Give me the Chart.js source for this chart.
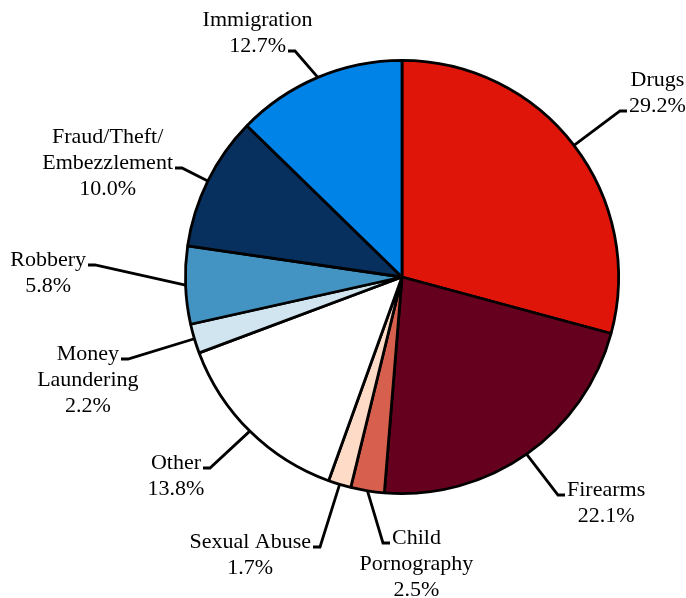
<!DOCTYPE html>
<html>
<head>
<meta charset="utf-8">
<script src="https://cdn.jsdelivr.net/npm/chart.js@4.4.1/dist/chart.umd.min.js"></script>
<style>
  html, body { margin: 0; padding: 0; background: #fff; }
  canvas { display: block; }
</style>
</head>
<body>
<canvas id="pie" width="686" height="598"></canvas>
<script>
const categories = ["Drugs", "Firearms", "Child Pornography", "Sexual Abuse", "Other",
  "Money Laundering", "Robbery", "Fraud/Theft/Embezzlement", "Immigration"];
const shares = [29.2, 22.1, 2.5, 1.7, 13.8, 2.2, 5.8, 10.0, 12.7];
const labelLines = [["Drugs"], ["Firearms"], ["Child", "Pornography"], ["Sexual Abuse"], ["Other"],
  ["Money", "Laundering"], ["Robbery"], ["Fraud/Theft/", "Embezzlement"], ["Immigration"]];
const sliceColors = ["#E0150A", "#65001F", "#D6604D", "#FDDBC7", "#FFFFFF",
  "#D1E5F0", "#4393C3", "#08305E", "#0083E6"];

// where each leader bends (offset from the pie centre), which side the text sits,
// and which text row the short tick points at
const leaders = [
  { dx: 218, dy: -166, side: "right", row: 1 },
  { dx: 156, dy: 218, side: "right", row: 0 },
  { dx: -19, dy: 266, side: "right", row: 0 },
  { dx: -82, dy: 270, side: "left", row: 0 },
  { dx: -192, dy: 191, side: "left", row: 0 },
  { dx: -274, dy: 82, side: "left", row: 0 },
  { dx: -307, dy: -12, side: "left", row: 0 },
  { dx: -220, dy: -109, side: "left", row: 1 },
  { dx: -107, dy: -226, side: "left", row: 1 }
];

const leaderLabels = {
  id: "leaderLabels",
  afterDatasetsDraw(chart) {
    const ctx = chart.ctx;
    const arcs = chart.getDatasetMeta(0).data;
    ctx.save();
    ctx.font = "22px 'Liberation Serif'";
    ctx.lineWidth = 2.8;
    ctx.lineJoin = "miter";
    ctx.strokeStyle = "#000";
    ctx.fillStyle = "#000";
    ctx.textAlign = "center";
    ctx.textBaseline = "alphabetic";
    arcs.forEach((arc, i) => {
      const p = arc.getProps(["x", "y", "startAngle", "endAngle", "outerRadius"], true);
      const mid = (p.startAngle + p.endAngle) / 2;
      const sx = p.x + Math.cos(mid) * p.outerRadius;
      const sy = p.y + Math.sin(mid) * p.outerRadius;
      const L = leaders[i];
      const ex = p.x + L.dx, ey = p.y + L.dy;
      const dir = L.side === "right" ? 1 : -1;
      const tx = ex + dir * 7;
      ctx.beginPath();
      ctx.moveTo(sx, sy);
      ctx.lineTo(ex, ey);
      ctx.lineTo(tx, ey);
      ctx.stroke();
      const lines = labelLines[i].concat(shares[i].toFixed(1) + "%");
      const w = ctx.measureText(lines[L.row]).width;
      const cx = tx + dir * (2 + w / 2);
      lines.forEach((t, k) => ctx.fillText(t, cx, ey + 1 + (k - L.row) * 26));
    });
    ctx.restore();
  }
};

new Chart(document.getElementById("pie"), {
  type: "pie",
  data: {
    labels: categories,
    datasets: [{
      data: shares,
      backgroundColor: sliceColors,
      borderColor: "#000",
      borderWidth: 2.8
    }]
  },
  options: {
    responsive: false,
    animation: false,
    layout: { padding: { left: 184, right: 66, top: 59, bottom: 103 } },
    plugins: {
      legend: { display: false },
      tooltip: { enabled: false }
    }
  },
  plugins: [leaderLabels]
});
</script>
</body>
</html>
